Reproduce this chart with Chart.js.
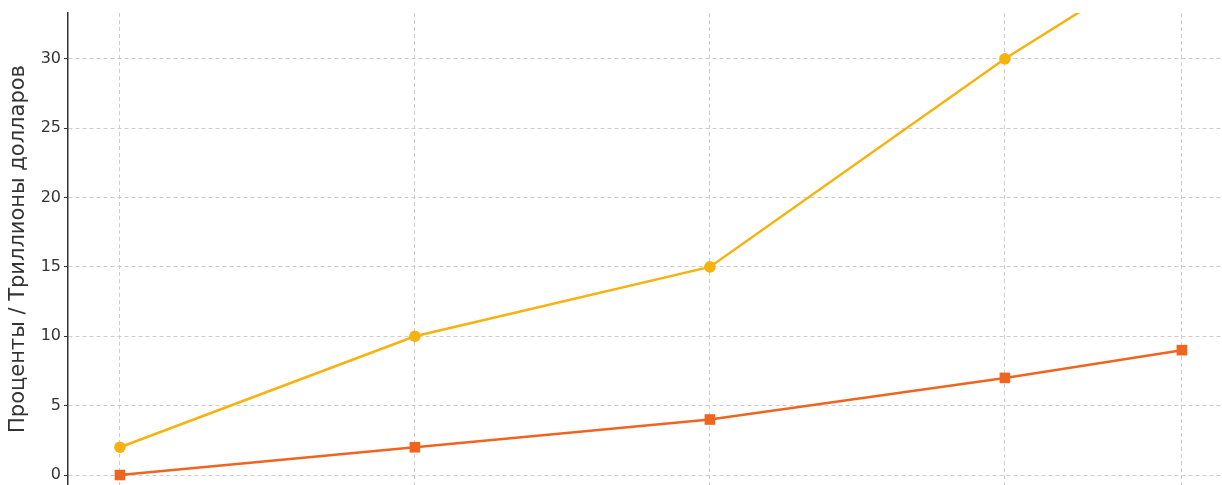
<!DOCTYPE html>
<html>
<head>
<meta charset="utf-8">
<script src="https://cdn.jsdelivr.net/npm/chart.js@4/dist/chart.umd.min.js"></script>
<style>
  html, body { margin: 0; padding: 0; background: #fff; overflow: hidden; }
  #wrap { position: relative; width: 1222px; height: 485px; }
</style>
</head>
<body>
<div id="wrap"><canvas id="lineChart"></canvas></div>
<script>
const years = [2020, 2025, 2030, 2035, 2038];
const upperSeries = [2, 10, 15, 30, 38];
const lowerSeries = [0, 2, 4, 7, 9];
const yTickValues = [0, 5, 10, 15, 20, 25, 30];

const gridColor = 'rgba(200, 200, 200, 0.9)';

const ctx = document.getElementById('lineChart').getContext('2d');
const lineChart = new Chart(ctx, {
    type: 'line',
    data: {
        datasets: [
            {
                label: 'upper',
                data: years.map((x, i) => ({ x: x, y: upperSeries[i] })),
                borderColor: '#F6B20F',
                backgroundColor: '#F6B20F',
                borderWidth: 2.5,
                pointStyle: 'circle',
                pointRadius: 5.8,
                pointBorderWidth: 0,
                fill: false
            },
            {
                label: 'lower',
                data: years.map((x, i) => ({ x: x, y: lowerSeries[i] })),
                borderColor: '#EF6520',
                backgroundColor: '#EF6520',
                borderWidth: 2.5,
                pointStyle: 'rect',
                pointRadius: 7.5,
                pointBorderWidth: 0,
                fill: false
            }
        ]
    },
    options: {
        responsive: true,
        maintainAspectRatio: false,
        animation: false,
        layout: { autoPadding: false, padding: { top: 13, right: 0, bottom: 0, left: 0 } },
        plugins: {
            legend: { display: false },
            tooltip: { enabled: false }
        },
        scales: {
            x: {
                type: 'linear',
                min: 2019.12,
                max: 2038.68,
                afterBuildTicks: (scale) => {
                    scale.ticks = years.map(v => ({ value: v }));
                },
                afterFit: (scale) => {
                    scale.height = 0;
                    scale.paddingLeft = 0;
                    scale.paddingRight = 0;
                },
                ticks: { display: false },
                grid: {
                    color: gridColor,
                    lineWidth: 1,
                    drawTicks: false
                },
                border: { display: false, dash: [4, 3] }
            },
            y: {
                min: -0.72,
                max: 33.3,
                afterBuildTicks: (scale) => {
                    scale.ticks = yTickValues.map(v => ({ value: v }));
                },
                afterFit: (scale) => {
                    scale.width = 68;
                    scale.paddingTop = 0;
                    scale.paddingBottom = 0;
                },
                ticks: {
                    color: '#333333',
                    padding: 3,
                    font: { family: 'DejaVu Sans', size: 16 }
                },
                title: {
                    display: true,
                    text: 'Проценты / Триллионы долларов',
                    color: '#333333',
                    padding: { top: 6, bottom: 4 },
                    font: { family: 'DejaVu Sans', size: 21 }
                },
                grid: {
                    color: gridColor,
                    lineWidth: 1,
                    tickLength: 4,
                    tickColor: '#333333'
                },
                border: { display: true, color: '#333333', width: 1.5, dash: [4, 3] }
            }
        }
    }
});
</script>
</body>
</html>
